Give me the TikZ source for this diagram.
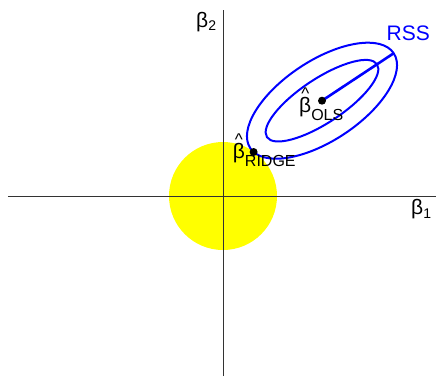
\documentclass[tikz,border=0pt]{standalone}
\usepackage{fontspec}
\setmainfont{Liberation Sans}
\definecolor{rsscol}{HTML}{0000FF}
\definecolor{ballcol}{HTML}{FFFF00}
\definecolor{axiscol}{HTML}{333333}
\newcommand{\subtxt}[2]{\raisebox{-#1}{\fontsize{16}{16}\selectfont #2}}
\newcommand{\axsub}[1]{\raisebox{-3.5pt}{\fontsize{14}{14}\selectfont #1}}
\newcommand{\betahat}[1]{\ooalign{β\cr\hidewidth\raisebox{12.5pt}{\fontsize{17}{17}\selectfont\char`\^}\hidewidth\cr}\subtxt{8pt}{#1}}
\tikzset{
  axis/.style={draw=axiscol, line width=0.8pt},
  contour/.style={draw=rsscol, line width=2pt},
  est/.style={circle, fill=black, inner sep=0pt, minimum size=8pt},
  lab/.style={anchor=base west, inner sep=0pt, font=\fontsize{21}{21}\selectfont},
}
\begin{document}
\begin{tikzpicture}[x=1pt, y=1pt]
  \useasboundingbox (-223,-180) rectangle (213,196);
  % ridge constraint
  \fill[ballcol] (0,0) circle (54);
  % axes
  \coordinate (xl) at (-215,0);
  \coordinate (xr) at (213,0);
  \coordinate (yb) at (0,-180);
  \coordinate (yt) at (0,186);
  \draw[axis] (xl) -- (xr);
  \draw[axis] (yb) -- (yt);
  % RSS contours
  \coordinate (olspt) at (99,95.3);
  \draw[contour, rotate around={33.5:(olspt)}] (olspt) ellipse (86 and 40);
  \draw[contour, rotate around={33.5:(olspt)}] (olspt) ellipse (66 and 22);
  \path (olspt) ++(33.5:86) coordinate (rssend);
  \draw[contour, line width=2.6pt] (olspt) -- (rssend);
  % estimates
  \node[est] (ols) at (olspt) {};
  \node[est] (ridge) at (30.6,44) {};
  % labels
  \node[lab] (b2) at (-27,169) {β\axsub{2}};
  \node[lab] (b1) at (188,-18.5) {β\axsub{1}};
  \node[lab] (olslab) at (76,84) {\betahat{OLS}};
  \node[lab] (ridgelab) at (9.7,38) {\betahat{RIDGE}};
  \node[lab, text=rsscol] (rss) at (163.5,156) {RSS};
\end{tikzpicture}
\end{document}
